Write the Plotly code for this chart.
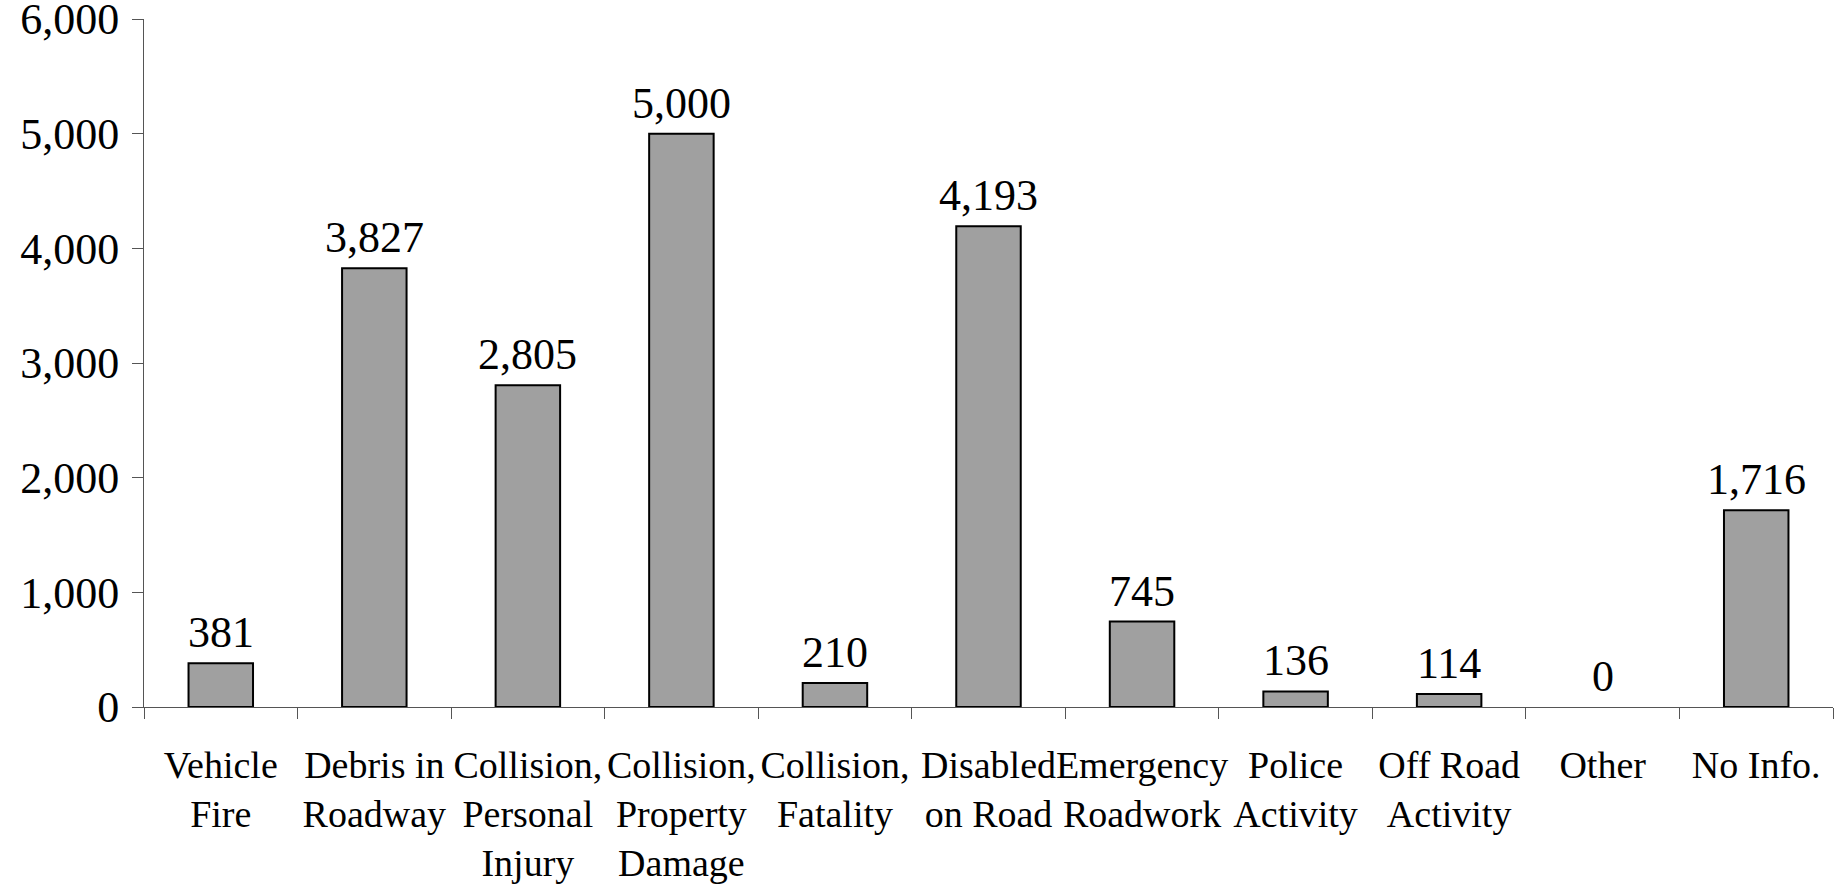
import plotly.graph_objects as go

categories = ["Vehicle<br>Fire", "Debris in<br>Roadway", "Collision,<br>Personal<br>Injury",
              "Collision,<br>Property<br>Damage", "Collision,<br>Fatality", "Disabled<br>on Road",
              "Emergency<br>Roadwork", "Police<br>Activity", "Off Road<br>Activity", "Other", "No Info."]
values = [381, 3827, 2805, 5000, 210, 4193, 745, 136, 114, 0, 1716]
y_ticks = [0, 1000, 2000, 3000, 4000, 5000, 6000]

FONT = "Liberation Serif"

fig = go.Figure(go.Bar(
    x=categories, y=values,
    marker=dict(color="#A0A0A0",
                line=dict(color="black", width=[2 if v > 0 else 0 for v in values])),
    cliponaxis=False,
))

for c, v in zip(categories, values):
    fig.add_annotation(x=c, y=v, text=f"{v:,}", showarrow=False, yanchor="bottom",
                       yshift=4, font=dict(family=FONT, size=44, color="black"))

fig.update_layout(
    width=1845, height=890,
    margin=dict(l=144, r=12, t=19, b=183),
    plot_bgcolor="white", paper_bgcolor="white",
    bargap=0.58, showlegend=False,
    font=dict(family=FONT, color="black"),
)
fig.update_xaxes(
    type="category", tickson="boundaries", ticks="outside", ticklen=11,
    tickcolor="#555", showline=True, linecolor="#555", linewidth=1,
    tickangle=0, tickfont=dict(family=FONT, size=38, color="black"),
    ticklabelstandoff=24, showgrid=False, automargin=False,
)
fig.update_yaxes(
    range=[0, 6000], tickvals=y_ticks, tickformat=",", ticks="outside", ticklen=11,
    tickcolor="#555", showline=True, linecolor="#555", linewidth=1,
    tickfont=dict(family=FONT, size=44, color="black"), showgrid=False, zeroline=False,
    ticklabelstandoff=4, ticklabeloverflow="allow", automargin=False,
)
fig.write_html("out.html", config={"displayModeBar": False},
               post_script="document.body.style.margin='0';document.body.style.overflow='hidden';")
